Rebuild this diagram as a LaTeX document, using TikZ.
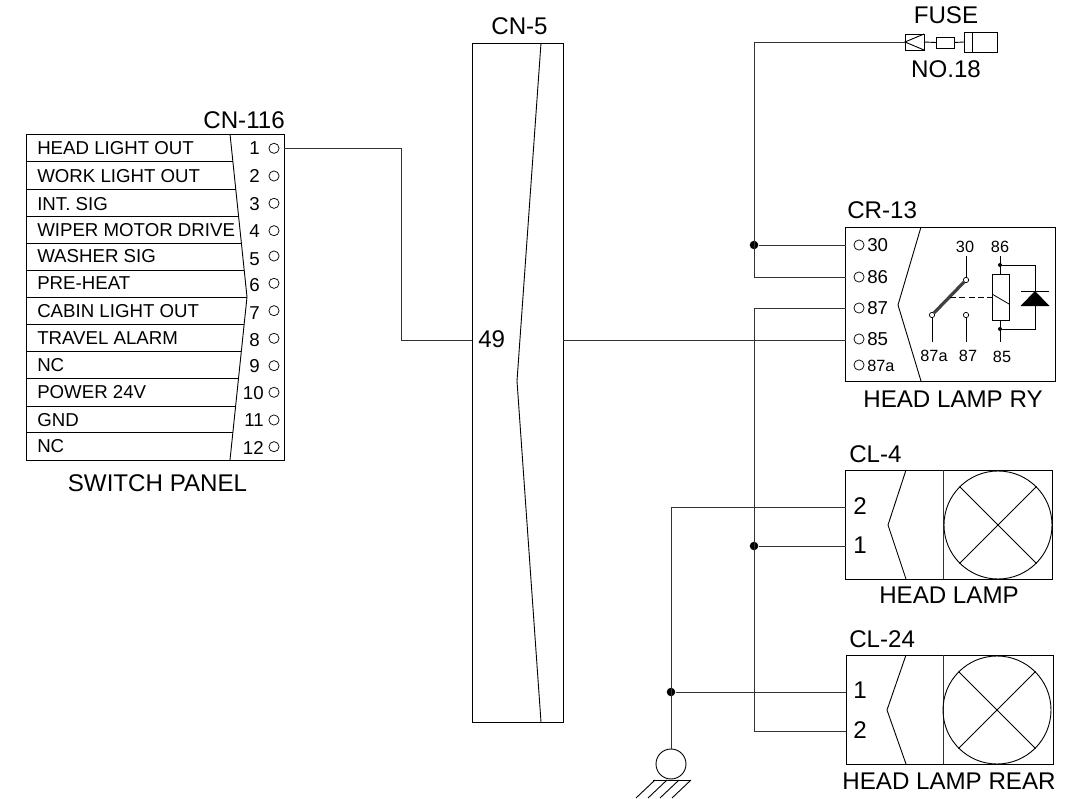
\documentclass[tikz,border=0pt]{standalone}
\usepackage{fontspec}
\setmainfont{Liberation Sans}
\tikzset{
  wire/.style={line width=0.72pt,black!80},
  thin line/.style={line width=0.68pt},
  boxn/.style={draw,line width=0.72pt,inner sep=0pt,outer sep=0pt,rectangle,anchor=north west},
  pin/.style={draw,circle,line width=0.55pt,inner sep=0pt,minimum size=7.6pt,outer sep=0pt},
  big/.style={inner sep=0pt,font=\fontsize{18.1pt}{20pt}\selectfont},
  mid/.style={inner sep=0pt,font=\fontsize{14pt}{16pt}\selectfont},
  small/.style={inner sep=0pt,font=\fontsize{12.2pt}{14pt}\selectfont},
  dotn/.style={circle,fill=black,inner sep=0pt,minimum size=6.4pt},
}
\begin{document}
\begin{tikzpicture}[x=0.75pt,y=-0.75pt]
\useasboundingbox (0,0) rectangle (1065,799);
% ---- switch panel
\node[boxn,minimum width=257.5*0.75pt,minimum height=326*0.75pt] (panel) at (26.5,134) {};
\draw[thin line] (230,134) -- (247,297) -- (230,460);
\foreach \y in {161.7,189,216.3,243.3,270.3,297.3,324.3,351.7,378.7,406,432.7}{
  \pgfmathsetmacro{\xz}{230+17*(1-abs(\y-297)/163)}
  \draw[thin line] (26.5,\y) -- (\xz,\y);
}
\node[big,anchor=base east] (t116) at (285,128) {CN-116};
\node[big,anchor=base] (tsw) at (157.5,491) {SWITCH PANEL};
\foreach \t/\y/\n in {HEAD LIGHT OUT/154.5/a,WORK LIGHT OUT/182.5/b,INT. SIG/210.5/c,WIPER MOTOR DRIVE/236.5/d,WASHER SIG/262/e,PRE-HEAT/289.5/f,CABIN LIGHT OUT/317/g,TRAVEL ALARM/344.5/h,NC/371.5/i,POWER 24V/398/j,GND/426/k,NC/452.5/l}{
  \node[mid,anchor=base west] (lab\n) at (37,\y) {\t};
}
\foreach \t/\x/\y/\c in {1/260/154.5/148.3,2/260/182.5/176,3/260/210.5/203.3,4/260/238/230.7,5/260/265/256,6/260/291.5/283.3,7/260/319/310.7,8/260/346/338.3,9/260/372/365.7}{
  \node[mid,anchor=base east] (num\t) at (\x,\y) {\t};
  \node[pin] (pp\t) at (274,\c) {};
}
\foreach \t/\x/\y/\c in {10/264/399/392.3,11/264/426/420,12/264/454/446.7}{
  \node[mid,anchor=base east] (num\t) at (\x,\y) {\t};
  \node[pin] (pp\t) at (274,\c) {};
}
\coordinate (o1) at (284,148);
% ---- CN-5
\node[boxn,minimum width=91*0.75pt,minimum height=679*0.75pt] (cn5) at (472,43) {};
\draw[thin line] (541,43) -- (517,381) -- (541,722);
\node[big,anchor=base] (t5) at (519.5,35) {CN-5};
\node[big,anchor=base west] (t49) at (478,347) {49};
\coordinate (c5l) at (472,340);
\coordinate (c5r) at (563,340);
% ---- fuse
\node[boxn,minimum width=19*0.75pt,minimum height=16*0.75pt] (fa) at (905,34) {};
\draw[thin line] (924,34) -- (905,42) -- (924,50);
\node[boxn,minimum width=18*0.75pt,minimum height=11*0.75pt] (fb) at (936,37) {};
\node[boxn,minimum width=33*0.75pt,minimum height=20*0.75pt] (fc) at (964,32) {};
\draw[thin line] (972,32) -- (972,52);
\draw[thin line] (fa.east) -- (fb.west);
\draw[thin line] (fb.east) -- (fc.west);
\node[big,anchor=base] (tfuse) at (946,24) {FUSE};
\node[big,anchor=base] (tno) at (946,78) {NO.18};
\coordinate (fw) at (905,42);
% ---- relay
\node[boxn,minimum width=209.5*0.75pt,minimum height=154*0.75pt] (cr) at (845.5,227) {};
\draw[thin line] (921,227) -- (898,305) -- (921,381);
\node[big,anchor=base west] (t13) at (847,219) {CR-13};
\node[big,anchor=base] (try) at (953,407) {HEAD LAMP RY};
\foreach \t/\y/\b in {30/245/r30,86/277/r86,87/308/r87,85/339/r85}{
  \node[pin] (c\b) at (859,\y) {};
  \node[inner sep=0pt,anchor=base west,font=\fontsize{14pt}{16pt}\selectfont] (\b) at (867,\y+6.5) {\t};
}
\node[pin] (cr87a) at (859,365) {};
\node[small,anchor=base west] (r87a) at (867,371) {87a};
\coordinate (w30) at (845.5,245);
\coordinate (w86) at (845.5,277);
\coordinate (w87) at (845.5,308);
\coordinate (w85) at (845.5,340);
% relay symbol
\node[pin,minimum size=4pt] (k30) at (966,280) {};
\node[pin,minimum size=4pt] (k87) at (966,315) {};
\node[pin,minimum size=4pt] (k87a) at (932,315) {};
\node[small,anchor=base] (s30) at (965,252) {30};
\node[small,anchor=base] (s86) at (1000,252) {86};
\node[small,anchor=base] (s87a) at (934,361) {87a};
\node[small,anchor=base] (s87) at (968,361) {87};
\node[small,anchor=base] (s85) at (1002,362) {85};
\draw[thin line] (966,256) -- (k30);
\draw[thin line] (k87) -- (966,342);
\draw[thin line] (k87a) -- (932,342);
\draw[line width=2.4pt,black!75] (k87a) -- (k30);
\draw[thin line,dash pattern=on 4.5pt off 2.5pt] (950,297) -- (992,297);
\node[boxn,line width=0.6pt,minimum width=17*0.75pt,minimum height=46*0.75pt] (coil) at (992,274) {};
\draw[line width=0.6pt] (992,294) -- (1009,304);
\node[dotn,minimum size=3pt] (d86) at (1000,265) {};
\node[dotn,minimum size=3pt] (d85) at (1000,329) {};
\draw[thin line] (1000,256) -- (1000,274);
\draw[thin line] (1000,320) -- (1000,342);
\draw[thin line] (d86) -- (1035,265) -- (1035,329) -- (d85);
\draw[thin line] (1021,291) -- (1049,291);
\fill (1035,291) -- (1049.5,306) -- (1020.5,306) -- cycle;
% ---- lamps
\node[boxn,minimum width=207*0.75pt,minimum height=109*0.75pt] (cl4) at (845.5,470) {};
\draw[thin line] (906,470) -- (888,525) -- (906,579);
\draw[wire] (943,470) -- (943,579);
\node[draw,circle,line width=0.68pt,minimum size=108*0.75pt,inner sep=0pt] (lamp4) at (998,525) {};
\draw[thin line] (lamp4.45) -- (lamp4.225);
\draw[thin line] (lamp4.135) -- (lamp4.315);
\node[big,anchor=base west] (t4) at (849,462) {CL-4};
\node[big,anchor=base] (th) at (949,603) {HEAD LAMP};
\node[big,anchor=base west] (p42) at (853,514) {2};
\node[big,anchor=base west] (p41) at (853,553) {1};
\coordinate (w42) at (845.5,507);
\coordinate (w41) at (845.5,546);
\node[boxn,minimum width=207*0.75pt,minimum height=109*0.75pt] (cl24) at (846,655) {};
\draw[thin line] (906,655) -- (887,710) -- (906,764);
\draw[wire] (943,655) -- (943,764);
\node[draw,circle,line width=0.68pt,minimum size=108*0.75pt,inner sep=0pt] (lamp24) at (997,710) {};
\draw[thin line] (lamp24.45) -- (lamp24.225);
\draw[thin line] (lamp24.135) -- (lamp24.315);
\node[big,anchor=base west] (t24) at (849,647) {CL-24};
\node[big,anchor=base] (thr) at (949,789) {HEAD LAMP REAR};
\node[big,anchor=base west] (p241) at (853,698) {1};
\node[big,anchor=base west] (p242) at (853,738) {2};
\coordinate (w241) at (846,692);
\coordinate (w242) at (846,731);
% ---- ground
\node[draw,circle,line width=0.68pt,minimum size=30*0.75pt,inner sep=0pt] (gnd) at (671,764) {};
\draw[thin line] (653,780) -- (691,780);
\foreach \x in {655,667,679,691}{
  \draw[thin line] (\x,780) -- (\x-19,798);
}
% ---- wires
\node[dotn] (j1) at (754,245) {};
\node[dotn] (j2) at (754,546) {};
\node[dotn] (j3) at (671,692) {};
\draw[wire] (o1) -- (401,148) -- (401,340) -- (c5l);
\draw[wire] (c5r) -- (w85);
\draw[wire] (fw) -- (754,42) -- (754,277) -- (w86);
\draw[wire] (j1) -- (w30);
\draw[wire] (w87) -- (754,308) -- (754,731) -- (w242);
\draw[wire] (j2) -- (w41);
\draw[wire] (w42) -- (671,507) -- (gnd.north);
\draw[wire] (j3) -- (w241);
\end{tikzpicture}
\end{document}
